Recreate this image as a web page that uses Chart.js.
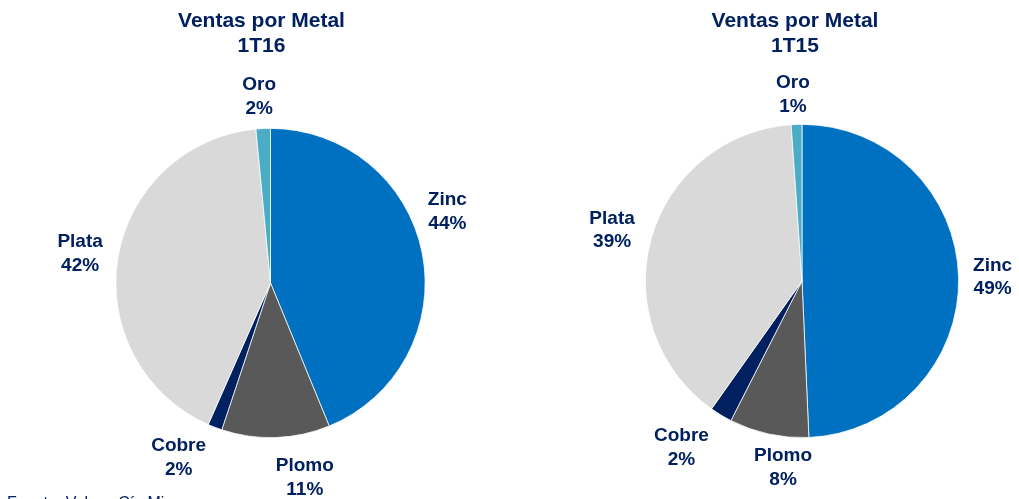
<!DOCTYPE html>
<html>
<head>
<meta charset="utf-8">
<script src="https://cdn.jsdelivr.net/npm/chart.js@4/dist/chart.umd.min.js"></script>
<style>
  html, body { margin: 0; padding: 0; background: #fff; overflow: hidden; }
  body { width: 1019px; height: 499px; position: relative; }
  canvas { position: absolute; top: 0; }
  #left { left: 0; }
  #right { left: 530px; }
  .title {
    position: absolute; top: 7px; width: 300px; text-align: center;
    font: bold 21px "Liberation Sans", Arial, sans-serif; line-height: 25.4px;
    color: #002060;
  }
  .note {
    position: absolute; left: 7px; top: 495px;
    font: 16px "Liberation Sans", Arial, sans-serif; line-height: 16px;
    color: #002060; white-space: nowrap;
  }
</style>
</head>
<body>
<canvas id="left" width="523" height="499"></canvas>
<canvas id="right" width="530" height="499"></canvas>
<div class="title" style="left:111.5px">Ventas por Metal<br>1T16</div>
<div class="title" style="left:645px">Ventas por Metal<br>1T15</div>
<div class="note">Fuente: Volcan Cía Minera</div>
<script>
const metals = ['Zinc', 'Plomo', 'Cobre', 'Plata', 'Oro'];
const colors = ['#0070C0', '#595959', '#002060', '#D9D9D9', '#4BACC6'];
const sales1T16 = [43.8, 11.3, 1.5, 41.9, 1.5];
const sales1T15 = [49.3, 8.2, 2.3, 39.1, 1.1];

const navy = '#002060';
const font = '"Liberation Sans", Arial, sans-serif';

// labels outside the slices: [angle in degrees from top, gap past the rim]
const sliceLabels = {
  id: 'sliceLabels',
  afterDatasetsDraw(chart, args, opts) {
    const ctx = chart.ctx;
    const values = chart.data.datasets[0].data;
    const total = values.reduce((a, b) => a + b, 0);
    chart.getDatasetMeta(0).data.forEach((arc, i) => {
      const [deg, gap] = opts.place[i];
      const a = (deg - 90) * Math.PI / 180;
      const d = arc.outerRadius + gap;
      const x = arc.x + Math.cos(a) * d;
      const y = arc.y + Math.sin(a) * d;
      ctx.save();
      ctx.fillStyle = navy;
      ctx.font = 'bold 19px ' + font;
      ctx.textAlign = 'center';
      ctx.textBaseline = 'middle';
      ctx.fillText(chart.data.labels[i], x, y - 11.75);
      ctx.fillText(Math.round(values[i] / total * 100) + '%', x, y + 11.75);
      ctx.restore();
    });
  }
};

function makePie(id, values, pad, place) {
  new Chart(document.getElementById(id), {
    type: 'pie',
    data: {
      labels: metals,
      datasets: [{
        data: values,
        backgroundColor: colors,
        borderColor: '#ffffff',
        borderWidth: 0.75
      }]
    },
    options: {
      responsive: false,
      animation: false,
      layout: { padding: pad },
      plugins: {
        legend: { display: false },
        tooltip: { enabled: false },
        title: { display: false },
        sliceLabels: { place: place }
      }
    },
    plugins: [sliceLabels]
  });
}

makePie('left', sales1T16,
  { top: 128, bottom: 61, left: 115.5, right: 97.5 },
  [[68.1, 36], [170, 43], [207.7, 43], [278.7, 38], [356.5, 32]]);

makePie('right', sales1T15,
  { top: 124, bottom: 61, left: 115, right: 101 },
  [[88.9, 34], [185.8, 31], [215.9, 49], [285, 40], [357.2, 30]]);
</script>
</body>
</html>
